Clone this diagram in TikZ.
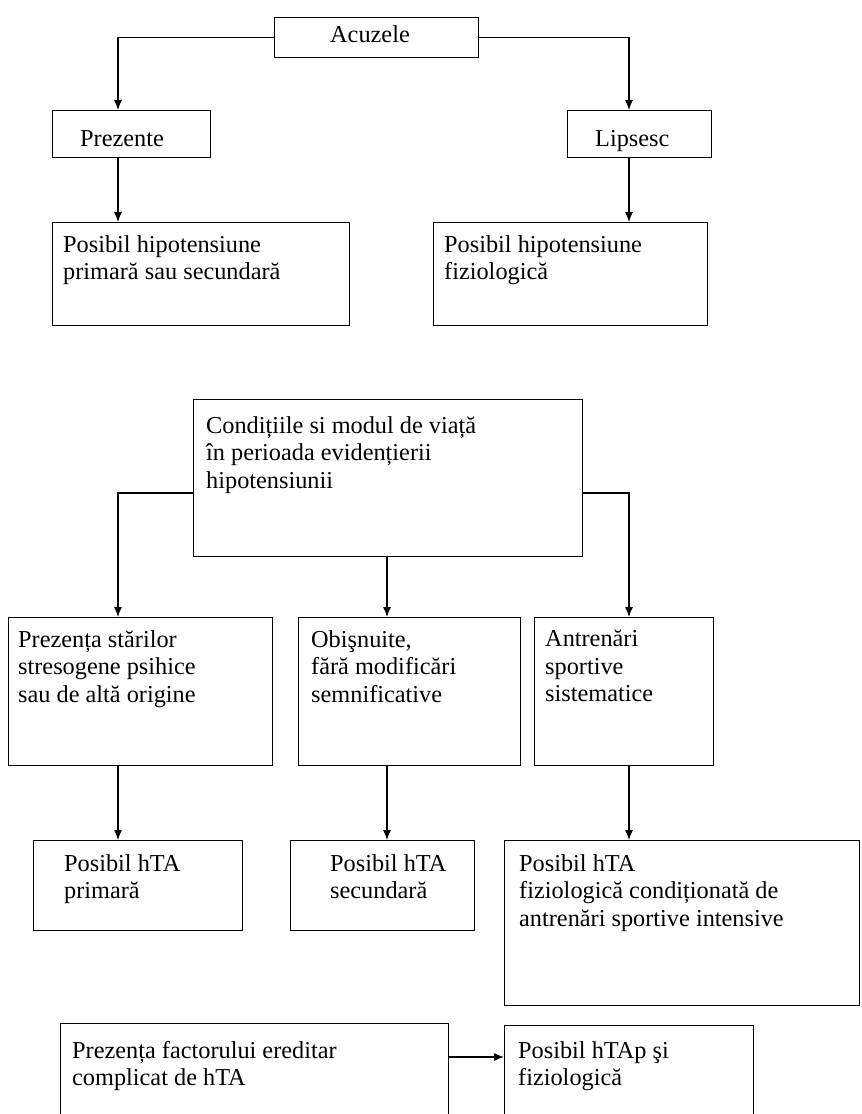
\documentclass[tikz,border=0pt]{standalone}
\usepackage{fontspec}
\setmainfont{Liberation Serif}
\usetikzlibrary{arrows.meta}

\tikzset{
  box/.style={draw,line width=1.2pt,inner sep=0pt,anchor=north west},
  txt/.style={anchor=north west,align=left,inner sep=0pt,
    font=\fontsize{24.3}{27.5}\selectfont},
  arr/.style={line width=1.2pt,-{Latex[length=10pt,width=8pt]}}
}

\begin{document}
\begin{tikzpicture}[x=1pt,y=-1pt]
\clip (0,0) rectangle (862,1114);

% --- column positions of the arrows ---
\coordinate (colL) at (118,0);
\coordinate (colM) at (387,0);
\coordinate (colR) at (629,0);
\coordinate (sideY) at (0,493);
\coordinate (arrY) at (0,1057);

% --- first diagram: acuzele ---
\node[box,minimum width=204pt,minimum height=40pt] (acuzele) at (274,17) {};
\node[txt] (acuzele-t) at (330,25) {Acuzele};

\node[box,minimum width=158pt,minimum height=47pt] (prezente) at (52,110) {};
\node[txt] (prezente-t) at (80,130) {Prezente};
\node[box,minimum width=144pt,minimum height=47pt] (lipsesc) at (567,110) {};
\node[txt] (lipsesc-t) at (595,130) {Lipsesc};

\node[box,minimum width=297pt,minimum height=103pt] (posA) at (52,222) {};
\node[txt] (posA-t) at (63,235) {Posibil hipotensiune\\primară sau secundară};
\node[box,minimum width=274pt,minimum height=103pt] (posB) at (433,222) {};
\node[txt] (posB-t) at (444,235) {Posibil hipotensiune\\fiziologică};

\draw[arr] (acuzele.west) -| (colL |- prezente.north);
\draw[arr] (acuzele.east) -| (colR |- lipsesc.north);
\draw[arr] (colL |- prezente.south) -- (colL |- posA.north);
\draw[arr] (colR |- lipsesc.south) -- (colR |- posB.north);

% --- second diagram: conditiile de viata ---
\node[box,minimum width=389pt,minimum height=157pt] (cond) at (193,399) {};
\node[txt] (cond-t) at (206,416)
  {Condițiile si modul de viață\\în perioada evidențierii\\hipotensiunii};

\node[box,minimum width=264pt,minimum height=148pt] (stres) at (8,617) {};
\node[txt] (stres-t) at (18,630)
  {Prezența stărilor\\stresogene psihice\\sau de altă origine};
\node[box,minimum width=222pt,minimum height=148pt] (obis) at (298,617) {};
\node[txt] (obis-t) at (311,630)
  {Obişnuite,\\fără modificări\\semnificative};
\node[box,minimum width=179pt,minimum height=148pt] (antr) at (534,617) {};
\node[txt] (antr-t) at (545,630)
  {Antrenări\\sportive\\sistematice};

\node[box,minimum width=209pt,minimum height=90pt] (htaP) at (33,840) {};
\node[txt] (htaP-t) at (64,854) {Posibil hTA\\primară};
\node[box,minimum width=184pt,minimum height=90pt] (htaS) at (290,840) {};
\node[txt] (htaS-t) at (330,854) {Posibil hTA\\secundară};
\node[box,minimum width=355pt,minimum height=165pt] (htaF) at (504,840) {};
\node[txt] (htaF-t) at (519,854)
  {Posibil hTA\\fiziologică condiționată de\\antrenări sportive intensive};

\draw[arr] (cond.west |- sideY) -| (colL |- stres.north);
\draw[arr] (colM |- cond.south) -- (colM |- obis.north);
\draw[arr] (cond.east |- sideY) -| (colR |- antr.north);
\draw[arr] (colL |- stres.south) -- (colL |- htaP.north);
\draw[arr] (colM |- obis.south) -- (colM |- htaS.north);
\draw[arr] (colR |- antr.south) -- (colR |- htaF.north);

% --- third diagram: factorul ereditar ---
\node[box,minimum width=388pt,minimum height=120pt] (ered) at (60,1023) {};
\node[txt] (ered-t) at (72,1041)
  {Prezența factorului ereditar\\complicat de hTA};
\node[box,minimum width=249pt,minimum height=120pt] (htap) at (504,1025) {};
\node[txt] (htap-t) at (518,1041) {Posibil hTAp şi\\fiziologică};

\draw[arr] (ered.east |- arrY) -- (htap.west |- arrY);

\end{tikzpicture}
\end{document}
